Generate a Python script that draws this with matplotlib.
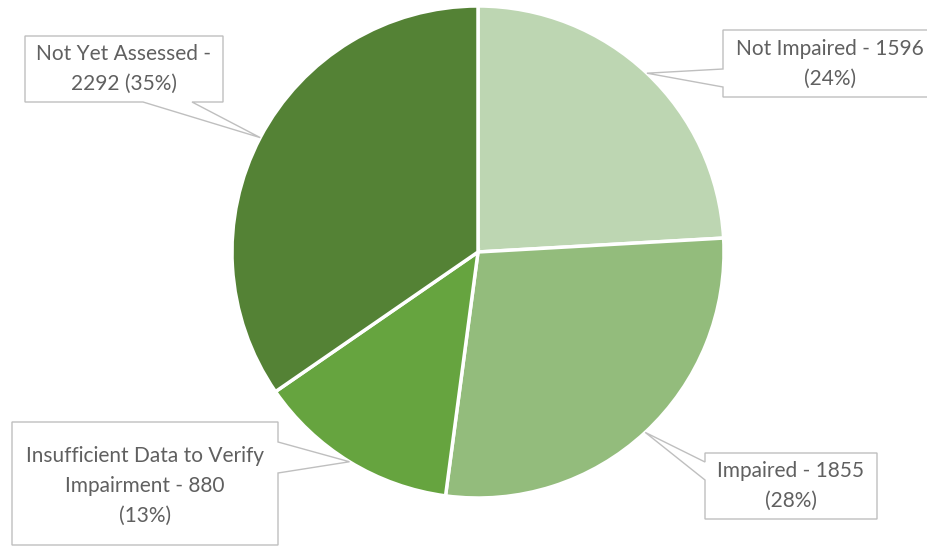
import matplotlib.pyplot as plt
import numpy as np
from matplotlib.patches import Polygon

categorias = ["Not Impaired", "Impaired", "Insufficient Data to Verify Impairment", "Not Yet Assessed"]
valores = [1596, 1855, 880, 2292]
etiquetas = ["Not Impaired - 1596\n(24%)",
             "Impaired - 1855\n(28%)",
             "Insufficient Data to Verify\nImpairment - 880\n(13%)",
             "Not Yet Assessed -\n2292 (35%)"]
colores = ["#BDD6B2", "#93BC7C", "#66A43F", "#548235"]

W, H = 927, 546
fig = plt.figure(figsize=(W / 100, H / 100), dpi=100)
ax = fig.add_axes([0, 0, 1, 1])


def Y(y):
    return H - y


cx, cy, r = 478, 252, 246
ax.pie(valores, colors=colores, startangle=90, counterclock=False,
       center=(cx, Y(cy)), radius=r, frame=True,
       wedgeprops=dict(edgecolor="white", linewidth=2.5))
ax.set_xlim(0, W)
ax.set_ylim(0, H)
ax.set_aspect("equal")
ax.axis("off")

# anclas en el punto medio de cada porción
frac = np.array(valores) / sum(valores)
acum = np.cumsum(frac) - frac / 2
ang = np.deg2rad(90 - acum * 360)
anclas = [(cx + r * np.cos(a), cy - r * np.sin(a)) for a in ang]

# cajas: (x0, y0, x1, y1), lado del puntero, tramo del puntero, centro del texto
cajas = [
    ((723, 30, 945, 97), "left", (69, 87), (830, 64)),
    ((705, 453, 877, 519), "left", (462, 480), (791, 486)),
    ((12, 422, 278, 545), "right", (442, 473), (145, 486)),
    ((25, 36, 223, 102), "bottom", (143, 192), (124, 69)),
]

for ((x0, y0, x1, y1), lado, (p1, p2), (tx, ty)), (axp, ayp), txt in zip(cajas, anclas, etiquetas):
    if lado == "left":
        pts = [(x0, y0), (x1, y0), (x1, y1), (x0, y1), (x0, p2), (axp, ayp), (x0, p1)]
    elif lado == "right":
        pts = [(x0, y0), (x1, y0), (x1, p1), (axp, ayp), (x1, p2), (x1, y1), (x0, y1)]
    else:
        pts = [(x0, y0), (x1, y0), (x1, y1), (p2, y1), (axp, ayp), (p1, y1), (x0, y1)]
    ax.add_patch(Polygon([(x, Y(y)) for x, y in pts], closed=True,
                         facecolor="white", edgecolor="#BFBFBF", linewidth=1, zorder=3))
    ax.text(tx, Y(ty), txt, ha="center", va="center", fontsize=15, family="Lato",
            color="#606060", linespacing=1.6, zorder=4)

plt.savefig("out.png", dpi=100)
